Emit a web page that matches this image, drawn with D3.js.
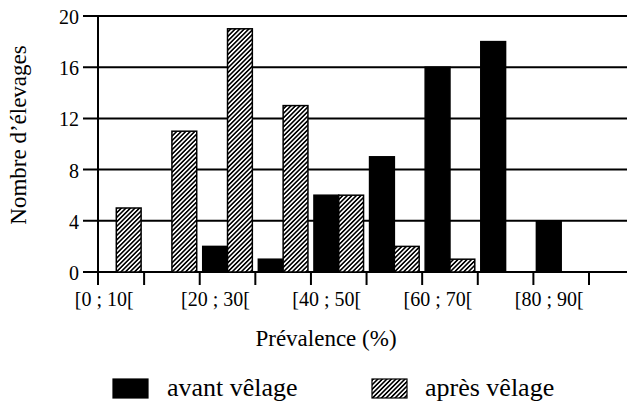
<!DOCTYPE html>
<html>
<head>
<meta charset="utf-8">
<script src="https://cdn.jsdelivr.net/npm/d3@7"></script>
<style>
    body { margin: 0; background: #fff; }
    svg { display: block; font-family: "Liberation Serif", "Times New Roman", serif; }
    .tick-label { font-size: 20px; }
    .axis-title { font-size: 23px; }
    .legend-label { font-size: 26px; }
</style>
</head>
<body>
<div id="chart"></div>
<script>
// prevalence classes, one group of two bars each
const categories = ['[0 ; 10[', '[10 ; 20[', '[20 ; 30[', '[30 ; 40[', '[40 ; 50[',
    '[50 ; 60[', '[60 ; 70[', '[70 ; 80[', '[80 ; 90['];
const avantVelage = [0, 0, 2, 1, 6, 9, 16, 18, 4];
const apresVelage = [5, 11, 19, 13, 6, 2, 1, 0, 0];
const yTicks = [0, 4, 8, 12, 16, 20];
const xTickLabels = ['[0 ; 10[', '[20 ; 30[', '[40 ; 50[', '[60 ; 70[', '[80 ; 90['];
const seriesNames = ['avant vêlage', 'après vêlage'];

const WIDTH = 629;
const HEIGHT = 401;
const AXIS_X = 98;

const svg = d3.select('#chart').append('svg')
    .attr('width', WIDTH)
    .attr('height', HEIGHT);

// hatch pattern for "après vêlage"
svg.append('defs').append('pattern')
    .attr('id', 'hatch')
    .attr('patternUnits', 'userSpaceOnUse')
    .attr('width', 3.2)
    .attr('height', 3.2)
    .attr('patternTransform', 'rotate(45)')
    .call(p => p.append('rect').attr('width', 3.2).attr('height', 3.2).attr('fill', '#fff'))
    .append('line')
        .attr('x1', 0.8).attr('y1', 0)
        .attr('x2', 0.8).attr('y2', 3.2)
        .attr('stroke', '#000')
        .attr('stroke-width', 1.6);

const x = d3.scaleBand()
    .domain(categories)
    .range([88.5, 589])
    .padding(0);

const xInner = d3.scaleBand()
    .domain(seriesNames)
    .range([3, x.bandwidth() - 3])
    .padding(0);

const y = d3.scaleLinear()
    .domain([0, 20])
    .range([272, 16]);

// horizontal grid lines + left ticks
svg.append('g')
    .selectAll('line')
    .data(yTicks)
    .join('line')
        .attr('x1', 83)
        .attr('x2', 627)
        .attr('y1', d => y(d))
        .attr('y2', d => y(d))
        .attr('stroke', '#000')
        .attr('stroke-width', 2);

svg.append('g')
    .selectAll('text')
    .data(yTicks)
    .join('text')
        .attr('class', 'tick-label')
        .attr('x', 79)
        .attr('y', d => y(d) + 8)
        .attr('text-anchor', 'end')
        .text(d => d);

// bars
const rows = categories.map((c, i) => ({
    cat: c,
    values: [
        { key: seriesNames[0], value: avantVelage[i] },
        { key: seriesNames[1], value: apresVelage[i] }
    ]
}));

svg.append('g')
    .selectAll('g')
    .data(rows)
    .join('g')
        .attr('transform', d => 'translate(' + x(d.cat) + ',0)')
    .selectAll('rect')
    .data(d => d.values.filter(v => v.value > 0))
    .join('rect')
        .attr('x', d => xInner(d.key))
        .attr('y', d => y(d.value))
        .attr('width', xInner.bandwidth())
        .attr('height', d => y(0) - y(d.value))
        .attr('fill', d => d.key === seriesNames[0] ? '#000' : 'url(#hatch)')
        .attr('stroke', '#000')
        .attr('stroke-width', 1.5);

// y axis line
svg.append('line')
    .attr('x1', AXIS_X).attr('x2', AXIS_X)
    .attr('y1', y(20)).attr('y2', 285)
    .attr('stroke', '#000')
    .attr('stroke-width', 2);

// x ticks between classes
svg.append('g')
    .selectAll('line')
    .data(categories.slice(1).concat(['end']))
    .join('line')
        .attr('x1', (d, i) => x(categories[i]) + x.bandwidth())
        .attr('x2', (d, i) => x(categories[i]) + x.bandwidth())
        .attr('y1', y(0))
        .attr('y2', 285)
        .attr('stroke', '#000')
        .attr('stroke-width', 2);

svg.append('g')
    .selectAll('text')
    .data(xTickLabels)
    .join('text')
        .attr('class', 'tick-label')
        .attr('x', d => x(d) + x.bandwidth() / 2 - 12)
        .attr('y', 306)
        .attr('text-anchor', 'middle')
        .text(d => d);

// axis titles
svg.append('text')
    .attr('class', 'axis-title')
    .attr('x', 326)
    .attr('y', 346)
    .attr('text-anchor', 'middle')
    .text('Prévalence (%)');

svg.append('text')
    .attr('class', 'axis-title')
    .attr('transform', 'translate(26,135) rotate(-90)')
    .attr('text-anchor', 'middle')
    .text('Nombre d’élevages');

// legend
const legendItems = [
    { name: seriesNames[0], fill: '#000', rx: 113, tx: 167 },
    { name: seriesNames[1], fill: 'url(#hatch)', rx: 372, tx: 425 }
];

const legend = svg.append('g');
legend.selectAll('rect')
    .data(legendItems)
    .join('rect')
        .attr('x', d => d.rx)
        .attr('y', 379)
        .attr('width', 35)
        .attr('height', 19)
        .attr('fill', d => d.fill)
        .attr('stroke', '#000')
        .attr('stroke-width', 1.2);

legend.selectAll('text')
    .data(legendItems)
    .join('text')
        .attr('class', 'legend-label')
        .attr('x', d => d.tx)
        .attr('y', 396)
        .text(d => d.name);
</script>
</body>
</html>
